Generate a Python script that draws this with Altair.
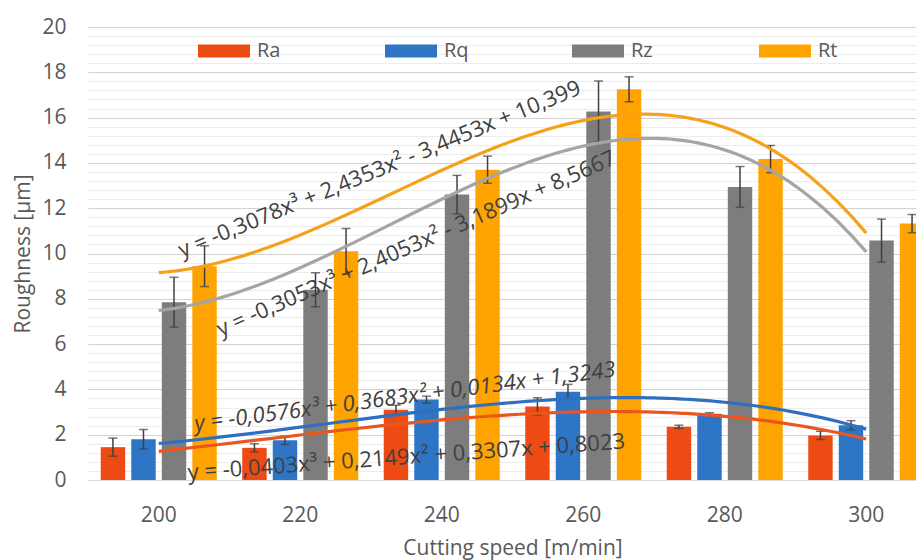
import altair as alt
import pandas as pd

# ---- data ----
speeds = ["200", "220", "240", "260", "280", "300"]
series = ["Ra", "Rq", "Rz", "Rt"]
ra = [1.45, 1.42, 3.10, 3.25, 2.35, 1.97]
ra_err = [0.40, 0.18, 0.20, 0.38, 0.07, 0.18]
rq = [1.80, 1.75, 3.55, 3.90, 2.92, 2.42]
rq_err = [0.43, 0.18, 0.15, 0.32, 0.05, 0.20]
rz = [7.85, 8.40, 12.60, 16.27, 12.94, 10.57]
rz_err = [1.10, 0.75, 0.85, 1.35, 0.90, 0.95]
rt = [9.44, 10.10, 13.70, 17.25, 14.17, 11.32]
rt_err = [0.90, 1.00, 0.60, 0.55, 0.60, 0.40]

bar_colors = ["#EE4B14", "#2E75C6", "#7D7D7D", "#FFA300"]
trend_colors = ["#E9561E", "#2F6FC0", "#A5A5A5", "#F7A11A"]

eq_text = [
    "y = -0,3078x³ + 2,4353x² - 3,4453x + 10,399",
    "y = -0,3053x³ + 2,4053x² - 3,1899x + 8,5667",
    "y = -0,0576x³ + 0,3683x² + 0,0134x + 1,3243",
    "y = -0,0403x³ + 0,2149x² + 0,3307x + 0,8023",
]
eq_x = [2.56, 2.82, 2.74, 2.75]
eq_y = [13.72, 10.43, 3.68, 1.01]
eq_angle = [337.7, 336.4, 352.6, 355.9]
eq_style = ["normal", "normal", "italic", "normal"]

y_ticks = [round(0.4 * i, 1) for i in range(51)]

# ---- tables ----
rows = []
for name, vals, errs in [("Ra", ra, ra_err), ("Rq", rq, rq_err), ("Rz", rz, rz_err), ("Rt", rt, rt_err)]:
    for i, (s, v, e) in enumerate(zip(speeds, vals, errs)):
        rows.append({"speed": s, "idx": i + 1, "series": name, "value": v, "lo": v - e, "hi": v + e})
df = pd.DataFrame(rows)
eq_df = pd.DataFrame({"eq": eq_text, "ex": eq_x, "ey": eq_y, "ang": eq_angle, "style": eq_style})

FONT = "Open Sans"
PLOT_W, PLOT_H = 828, 453
X_RANGE = [0, 849]  # the reference's plot runs past the right edge of the picture
band = alt.Scale(paddingInner=0.18, paddingOuter=0.09, range=X_RANGE)
xq = alt.Scale(domain=[0.5, 6.5], nice=False, zero=False, range=X_RANGE)
yscale = alt.Scale(domain=[0, 20], nice=False, zero=True)
major = "round(datum.value*10) % 20 == 0"

x_bar = alt.X("speed:N", sort=speeds, scale=band,
              axis=alt.Axis(title="Cutting speed [m/min]", labelAngle=0, ticks=False,
                            domainColor="#D9D9D9", grid=False, labelFontSize=21,
                            labelPadding=24, titleFontSize=21, titlePadding=12))
x_plain = alt.X("speed:N", sort=speeds, scale=band, axis=None)
xoff = alt.XOffset("series:N", sort=series, scale=alt.Scale(paddingInner=0.2))

y_axis = alt.Axis(values=y_ticks, tickCount=60,
                  labelExpr=f"{major} ? format(datum.value, 'd') : ''",
                  gridColor={"condition": {"test": major, "value": "#D2D2D2"}, "value": "#ECECEC"},
                  gridWidth=1, domain=False, ticks=False, labelOverlap=False,
                  labelFontSize=21, labelPadding=22, title="Roughness [µm]",
                  titleFontSize=21, titlePadding=8)

bars = alt.Chart(df).mark_bar().encode(
    x=x_bar, xOffset=xoff,
    y=alt.Y("value:Q", scale=yscale, axis=y_axis),
    fill=alt.Fill("series:N", sort=series,
                  scale=alt.Scale(domain=series, range=bar_colors),
                  legend=alt.Legend(title=None, orient="none", legendX=123, legendY=11,
                                    direction="horizontal", columns=4, gridAlign="all",
                                    columnPadding=103, padding=0,
                                    symbolType="M-2,-0.5L2,-0.5L2,0.5L-2,0.5Z",
                                    symbolSize=676, symbolStrokeWidth=0, labelOffset=20,
                                    labelFontSize=20, labelFont=FONT, labelColor="#595959")),
)
err = alt.Chart(df).mark_rule(color="#404040", strokeWidth=1.5).encode(
    x=x_plain, xOffset=xoff, y=alt.Y("lo:Q", scale=yscale), y2="hi:Q")
cap_lo = alt.Chart(df).mark_tick(color="#404040", thickness=1.5, size=9).encode(
    x=x_plain, xOffset=xoff, y=alt.Y("lo:Q", scale=yscale))
cap_hi = alt.Chart(df).mark_tick(color="#404040", thickness=1.5, size=9).encode(
    x=x_plain, xOffset=xoff, y=alt.Y("hi:Q", scale=yscale))

trend = alt.Chart(df).transform_regression(
    "idx", "value", method="poly", order=3, groupby=["series"]
).mark_line(strokeWidth=3.2).encode(
    x=alt.X("idx:Q", scale=xq, axis=None),
    y=alt.Y("value:Q", scale=yscale),
    stroke=alt.Stroke("series:N", scale=alt.Scale(domain=series, range=trend_colors), legend=None),
    detail="series:N",
)


def eq_layer(style):
    return alt.Chart(eq_df).transform_filter(alt.datum.style == style).mark_text(
        font=FONT, fontSize=22, fontStyle=style, color="#404040",
        align="center", baseline="middle").encode(
        x=alt.X("ex:Q", scale=xq, axis=None),
        y=alt.Y("ey:Q", scale=yscale),
        text="eq:N",
        angle=alt.Angle("ang:Q", scale=None),
    )


chart = alt.layer(bars, err, cap_lo, cap_hi, trend, eq_layer("normal"), eq_layer("italic")
                  ).resolve_scale(x="independent").properties(
    width=PLOT_W, height=PLOT_H,
    autosize=alt.AutoSizeParams(type="none"),
    padding={"left": 80, "top": 19, "right": 0, "bottom": 80},
).configure_view(stroke=None).configure_axis(
    labelFont=FONT, titleFont=FONT, labelColor="#595959", titleColor="#595959",
    titleFontWeight="normal",
)

chart.save("out.html", embed_options={"renderer": "svg", "actions": False})
